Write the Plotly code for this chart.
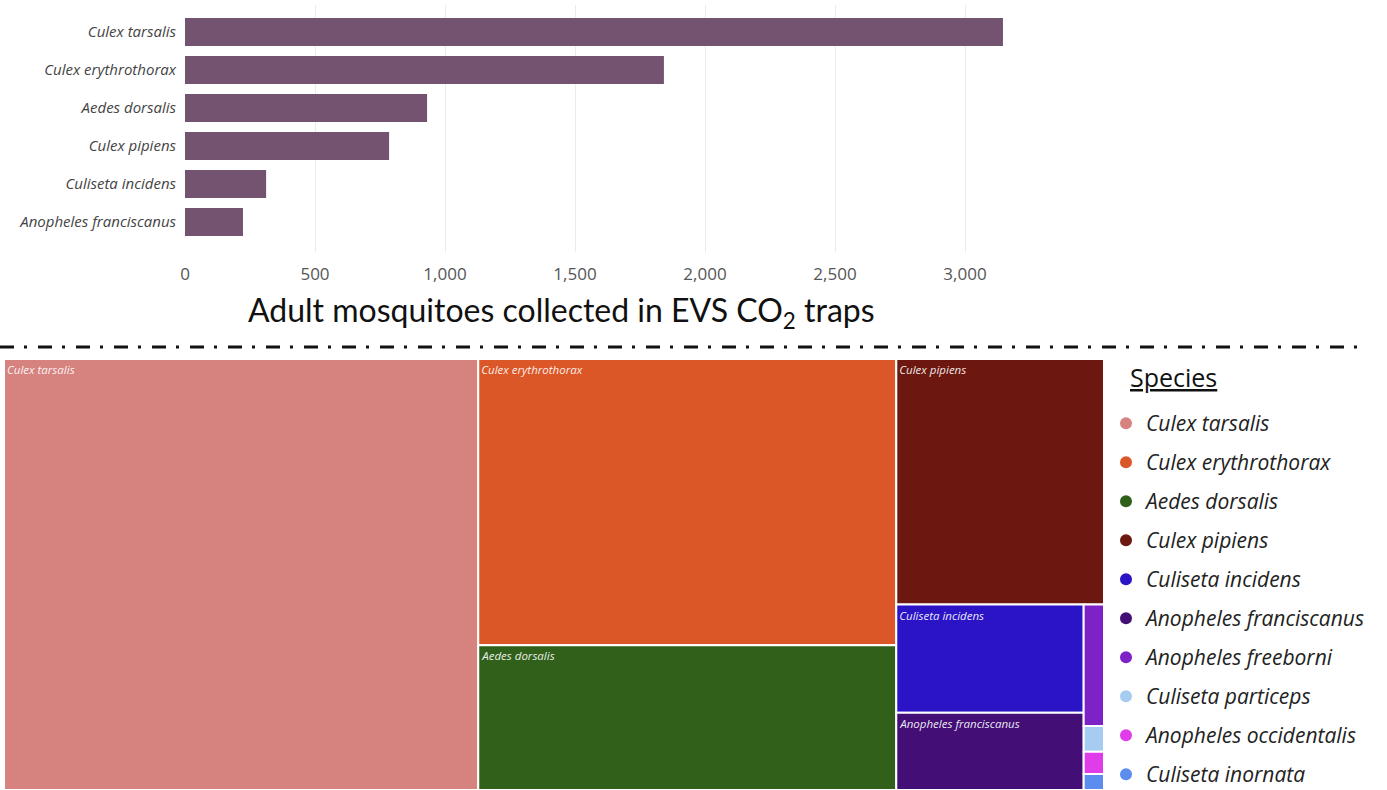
import plotly.graph_objects as go

# Adult mosquitoes per species (bar chart: top six species)
bar_species = [
    "Culex tarsalis",
    "Culex erythrothorax",
    "Aedes dorsalis",
    "Culex pipiens",
    "Culiseta incidens",
    "Anopheles franciscanus",
]
bar_counts = [3146, 1842, 931, 785, 312, 223]

# All species shown in the treemap
tree_species = [
    "Culex tarsalis",
    "Culex erythrothorax",
    "Aedes dorsalis",
    "Culex pipiens",
    "Culiseta incidens",
    "Anopheles franciscanus",
    "Anopheles freeborni",
    "Culiseta particeps",
    "Anopheles occidentalis",
    "Culiseta inornata",
]
tree_counts = [3146, 1842, 931, 785, 312, 223, 38, 8, 7, 5]
tree_colors = [
    "#D6837F",
    "#DC5727",
    "#31601B",
    "#6C1810",
    "#2A14C6",
    "#430F76",
    "#7D22C6",
    "#A6CCF2",
    "#E03DEA",
    "#5B8DEE",
]

x_ticks = [0, 500, 1000, 1500, 2000, 2500, 3000]
x_tick_text = ["0", "500", "1,000", "1,500", "2,000", "2,500", "3,000"]

W, H = 1387, 790
FONT = "Open Sans"

fig = go.Figure()

fig.add_trace(go.Bar(
    x=bar_counts,
    y=bar_species,
    orientation="h",
    marker=dict(color="#735370", line=dict(width=0)),
    width=0.74,
    showlegend=False,
    xaxis="x",
    yaxis="y",
))

fig.add_trace(go.Treemap(
    labels=tree_species,
    parents=[""] * len(tree_species),
    values=tree_counts,
    marker=dict(
        colors=tree_colors,
        line=dict(color="#FFFFFF", width=2),
        pad=dict(t=0, l=0, r=0, b=0),
    ),
    tiling=dict(packing="squarify", squarifyratio=1.618, pad=0),
    pathbar=dict(visible=False),
    sort=True,
    texttemplate="<i>%{label}</i>",
    textposition="top left",
    textfont=dict(family=FONT, size=11.5, color="rgba(255,255,255,0.92)"),
    domain=dict(x=[4 / W, 1104 / W], y=[0, 1 - 359 / H]),
    hoverinfo="label+value",
))

# Legend entries for the species colours
for name, color in zip(tree_species, tree_colors):
    fig.add_trace(go.Scatter(
        x=[None], y=[None],
        mode="markers",
        marker=dict(symbol="circle", size=14, color=color),
        name=f"<i>{name}</i>",
        legendgroup=name,
        xaxis="x2", yaxis="y2",
        showlegend=True,
    ))

fig.update_layout(
    width=W,
    height=H,
    margin=dict(l=0, r=0, t=0, b=0, pad=0, autoexpand=False),
    paper_bgcolor="white",
    plot_bgcolor="white",
    font=dict(family=FONT, color="#333"),
    uniformtext=dict(minsize=9, mode="hide"),
    xaxis=dict(
        domain=[185 / W, 1017 / W],
        range=[0, 3200],
        tickvals=x_ticks,
        ticktext=x_tick_text,
        showgrid=True,
        gridcolor="#EBEBEB",
        gridwidth=1,
        zeroline=False,
        showline=False,
        ticks="",
        automargin=False,
        ticklabelstandoff=10,
        tickfont=dict(family=FONT, size=17, color="#555"),
        anchor="y",
    ),
    yaxis=dict(
        domain=[1 - 252 / H, 1 - 5 / H],
        type="category",
        categoryorder="array",
        categoryarray=bar_species,
        range=[5.79, -0.711],
        showgrid=False,
        zeroline=False,
        showline=False,
        ticks="",
        automargin=False,
        ticklabelstandoff=8,
        tickfont=dict(family=FONT, size=15, color="#444", style="italic"),
        anchor="x",
    ),
    xaxis2=dict(domain=[0.99, 1.0], visible=False, anchor="y2", automargin=False),
    yaxis2=dict(domain=[0.0, 0.01], visible=False, anchor="x2", automargin=False),
    legend=dict(
        x=1106 / W, xanchor="left",
        y=1 - 403 / H, yanchor="top",
        bgcolor="rgba(0,0,0,0)",
        borderwidth=0,
        tracegroupgap=8.7,
        itemsizing="constant",
        font=dict(family=FONT, size=21, color="#222"),
    ),
    annotations=[
        dict(
            text="Adult mosquitoes collected in EVS CO<sub>2</sub> traps",
            x=561 / W, y=1 - 312 / H,
            xref="paper", yref="paper",
            xanchor="center", yanchor="middle",
            showarrow=False,
            font=dict(family="Lato", size=32, color="#111"),
        ),
        dict(
            text="<u>Species</u>",
            x=1128 / W, y=1 - 377 / H,
            xref="paper", yref="paper",
            xanchor="left", yanchor="middle",
            showarrow=False,
            font=dict(family=FONT, size=25, color="#111"),
        ),
    ],
    shapes=[
        dict(
            type="line",
            xref="paper", yref="paper",
            x0=0, x1=1365 / W,
            y0=1 - 347 / H, y1=1 - 347 / H,
            line=dict(color="#111", width=3, dash="14px,10px,3px,11px"),
        )
    ],
)

fig.write_html("out.html")
